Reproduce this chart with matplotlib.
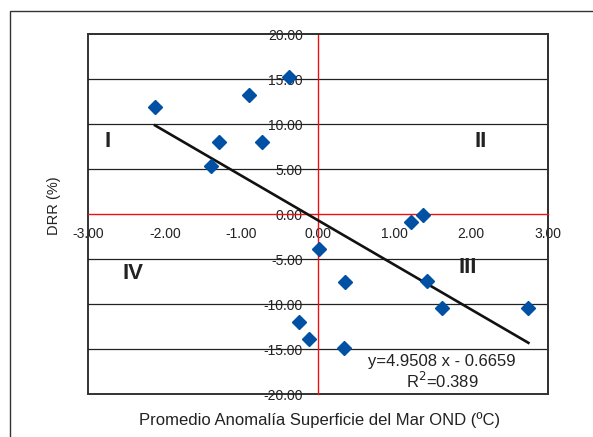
import matplotlib
matplotlib.use("Agg")
import matplotlib.pyplot as plt
from matplotlib.patches import Rectangle
import numpy as np

plt.rcParams['font.family'] = ['Liberation Sans', 'DejaVu Sans']

# anomalia SST OND (C) vs DRR (%)
sst = [-2.13, -0.90, -0.375, -1.29, -0.73, -1.40, 1.22, 1.37, 0.01,
       0.35, 1.42, 1.62, 2.75, -0.245, -0.12, 0.336]
drr = [11.9, 13.3, 15.3, 8.07, 8.07, 5.37, -0.82, -0.05, -3.8,
       -7.5, -7.4, -10.4, -10.4, -12.0, -13.8, -14.9]

# recta de tendencia (como esta dibujada)
slope = -4.9508
intercept = -0.6659
eq_text = "y=4.9508 x - 0.6659"
r2_text = "R$^2$=0.389"

xticks = [-3, -2, -1, 0, 1, 2, 3]
yticks = [-20, -15, -10, -5, 0, 5, 10, 15, 20]

fig = plt.figure(figsize=(5.93, 4.37), dpi=100)
ax = fig.add_axes([0.1492, 0.0977, 0.7741, 0.8238])

# outer frame of the chart area
fig.patches.append(Rectangle((0.0169, -0.1), 1.2, 1.0748, transform=fig.transFigure,
                             fill=False, edgecolor='#333333', lw=1.0))

for yv in yticks:
    if yv not in (0, -20, 20):
        ax.axhline(yv, color='#222222', lw=0.9, zorder=1)

ax.spines['left'].set_position(('data', 0))
ax.spines['bottom'].set_position(('data', 0))
ax.spines['left'].set_color('#ee1111')
ax.spines['bottom'].set_color('#ee1111')
ax.spines['left'].set_linewidth(1.0)
ax.spines['bottom'].set_linewidth(1.0)
for s in ('top', 'right'):
    ax.spines[s].set_color('#333333')
    ax.spines[s].set_linewidth(1.4)
ax.add_patch(Rectangle((0, 0), 1, 1, transform=ax.transAxes, fill=False,
                       edgecolor='#333333', lw=1.4, zorder=0.5, clip_on=False))

xl = np.array([min(sst), max(sst)])
ax.plot(xl, slope * xl + intercept, color='#111111', lw=1.9, zorder=3)
ax.plot(sst, drr, 'D', color='#0050a4', ms=7.5, mec='#0050a4', zorder=4, clip_on=False)

ax.set_xlim(-3, 3)
ax.set_ylim(-20, 20)
ax.set_xticks(xticks)
ax.set_yticks(yticks)
ax.set_xticklabels(["%.2f" % v for v in xticks])
ax.set_yticklabels(["%.2f" % v for v in yticks])
ax.tick_params(axis='y', length=0, pad=11, labelsize=10, colors='#222222')
ax.tick_params(axis='x', length=0, pad=9, labelsize=10, colors='#222222')

qkw = dict(fontsize=16, fontweight='bold', ha='center', va='center', color='#222222')
ax.text(-2.75, 8.1, "I", **qkw)
ax.text(2.13, 8.1, "II", **qkw)
ax.text(1.96, -5.9, "III", **qkw)
ax.text(-2.42, -6.6, "IV", **qkw)

ax.text(1.62, -16.4, eq_text, fontsize=12, ha='center', va='center', color='#222222')
ax.text(1.62, -18.5, r2_text, fontsize=12, ha='center', va='center', color='#222222')

fig.text(0.539, 0.039, "Promedio Anomalía Superficie del Mar OND (ºC)", fontsize=12,
         ha='center', va='center', color='#222222')
fig.text(0.091, 0.529, "DRR (%)", fontsize=10.5, rotation=90, ha='center', va='center',
         color='#222222')

fig.savefig("out.png", dpi=100)
